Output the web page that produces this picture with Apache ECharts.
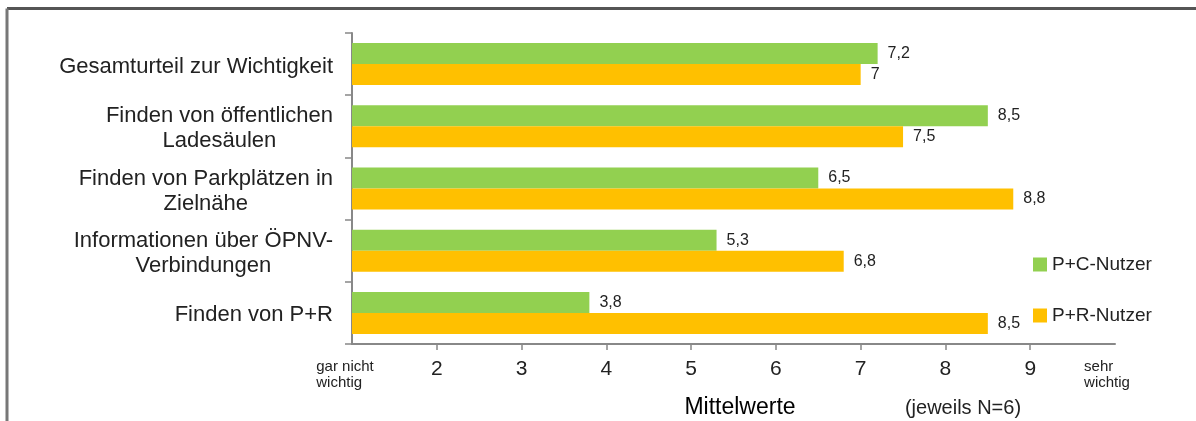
<!DOCTYPE html>
<html>
<head>
<meta charset="utf-8">
<script src="https://cdn.jsdelivr.net/npm/echarts@6/dist/echarts.min.js"></script>
<style>
  html, body { margin: 0; padding: 0; background: #fff; }
  #chart { width: 1196px; height: 421px; }
</style>
</head>
<body>
<div id="chart"></div>
<script>
var categories = [
  "Gesamturteil zur Wichtigkeit",
  "Finden von öffentlichen\nLadesäulen",
  "Finden von Parkplätzen in\nZielnähe",
  "Informationen über ÖPNV-\nVerbindungen",
  "Finden von P+R"
];
var pcNutzer = [7.2, 8.5, 6.5, 5.3, 3.8];
var prNutzer = [7, 7.5, 8.8, 6.8, 8.5];
var tickValues = [2, 3, 4, 5, 6, 7, 8, 9];
var labelValues = [1, 2, 3, 4, 5, 6, 7, 8, 9, 10];

var textColor = "#222";
var axisColor = "#888";
var font = "'Liberation Sans', Arial, sans-serif";

var chart = echarts.init(document.getElementById("chart"));

// Zahlen mit Komma
function komma(v) {
  return String(v).replace(".", ",");
}

var option = {
  animation: false,
  textStyle: { fontFamily: font },
  grid: { left: 352, right: 81, top: 33, bottom: 77 },
  legend: {
    orient: "vertical",
    left: 1033,
    top: 255,
    padding: 0,
    itemWidth: 14,
    itemHeight: 14,
    itemGap: 32,
    icon: "rect",
    textStyle: { fontSize: 19, color: textColor, fontFamily: font },
    data: ["P+C-Nutzer", "P+R-Nutzer"]
  },
  xAxis: {
    type: "value",
    min: 1,
    max: 10,
    interval: 1,
    splitLine: { show: false },
    axisLine: { show: true, lineStyle: { color: axisColor, width: 2 } },
    axisTick: {
      show: true,
      length: 6,
      customValues: tickValues,
      lineStyle: { color: axisColor, width: 1.5 }
    },
    axisLabel: {
      margin: 15,
      customValues: labelValues,
      fontSize: 21,
      color: textColor,
      formatter: function (v) {
        if (v === 1) return "{a|gar nicht}\n{a|wichtig}";
        if (v === 10) return "{b|sehr}\n{b|wichtig}";
        return v;
      },
      rich: {
        a: { align: "left", fontSize: 15, lineHeight: 16, color: textColor, padding: [0, 14, 0, 0] },
        b: { align: "left", fontSize: 15, lineHeight: 16, color: textColor, padding: [0, 16, 0, 0] }
      }
    }
  },
  yAxis: {
    type: "category",
    inverse: true,
    data: categories,
    axisLine: { show: true, lineStyle: { color: axisColor, width: 2 } },
    axisTick: { show: true, length: 7, lineStyle: { color: axisColor, width: 1.5 } },
    axisLabel: {
      margin: 19,
      align: "right",
      formatter: function (v) {
        return v.split("\n").map(function (s) { return "{c|" + s + "}"; }).join("\n");
      },
      rich: {
        c: { align: "center", fontSize: 22, lineHeight: 25, color: textColor, padding: [5, 0, 0, 0] }
      }
    }
  },
  series: [
    {
      name: "P+C-Nutzer",
      type: "bar",
      data: pcNutzer,
      barWidth: 21,
      barGap: "0%",
      itemStyle: { color: "#92d050" },
      label: {
        show: true,
        position: "right",
        distance: 10,
        fontSize: 16,
        color: textColor,
        formatter: function (p) { return komma(p.value); }
      }
    },
    {
      name: "P+R-Nutzer",
      type: "bar",
      data: prNutzer,
      barWidth: 21,
      barGap: "0%",
      itemStyle: { color: "#ffc000" },
      label: {
        show: true,
        position: "right",
        distance: 10,
        fontSize: 16,
        color: textColor,
        formatter: function (p) { return komma(p.value); }
      }
    }
  ],
  graphic: [
    {
      type: "line",
      shape: { x1: 7, y1: 8.5, x2: 1196, y2: 8.5 },
      style: { stroke: "#555", lineWidth: 3 },
      silent: true
    },
    {
      type: "line",
      shape: { x1: 7, y1: 8.5, x2: 7, y2: 421 },
      style: { stroke: "#777", lineWidth: 3 },
      silent: true
    },
    {
      type: "text",
      x: 740,
      y: 408,
      style: {
        text: "Mittelwerte",
        fontSize: 23,
        fill: "#000",
        fontFamily: font,
        align: "center",
        verticalAlign: "middle"
      }
    },
    {
      type: "text",
      x: 963,
      y: 408,
      style: {
        text: "(jeweils N=6)",
        fontSize: 20,
        fill: textColor,
        fontFamily: font,
        align: "center",
        verticalAlign: "middle"
      }
    }
  ]
};

chart.setOption(option);
</script>
</body>
</html>
